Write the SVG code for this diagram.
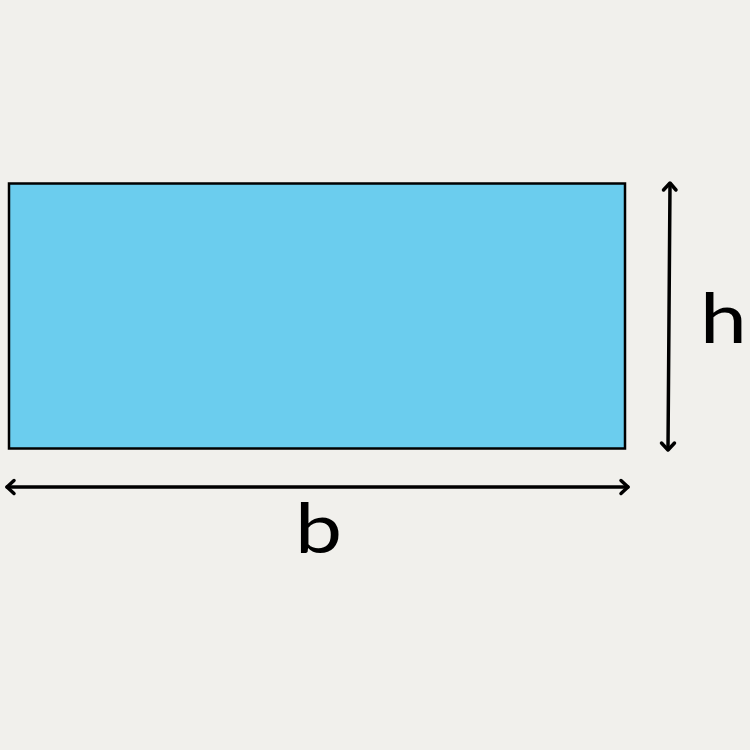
<svg xmlns="http://www.w3.org/2000/svg" width="750" height="750" viewBox="0 0 750 750">
<style>
.dim{stroke:#000;stroke-width:3.5;fill:none;stroke-linecap:round;stroke-linejoin:round}
.lbl{font-family:"Lato","Liberation Sans",sans-serif;font-size:70px;fill:#000}
</style>
<rect width="750" height="750" fill="#F1F0EC"/>
<g id="rectangle">
<rect x="9" y="183.5" width="616" height="265" fill="#6BCDEE" stroke="#000" stroke-width="2.5"/>
</g>
<g id="connectors">
<line class="dim" x1="670" y1="184" x2="668" y2="449"/>
<polyline class="dim" points="663.5,190 670,183 676,190"/>
<polyline class="dim" points="661.5,443 668,450 674.5,443"/>
<line class="dim" x1="7" y1="487" x2="628" y2="487"/>
<polyline class="dim" points="14,480.5 7,487 14,493.5"/>
<polyline class="dim" points="621,480.5 628,487 621,493.5"/>
</g>
<g id="label-h"><text class="lbl" transform="translate(700,343) scale(1.2,1)">h</text></g>
<g id="label-b"><text class="lbl" transform="translate(295,553) scale(1.2,1)">b</text></g>
</svg>
